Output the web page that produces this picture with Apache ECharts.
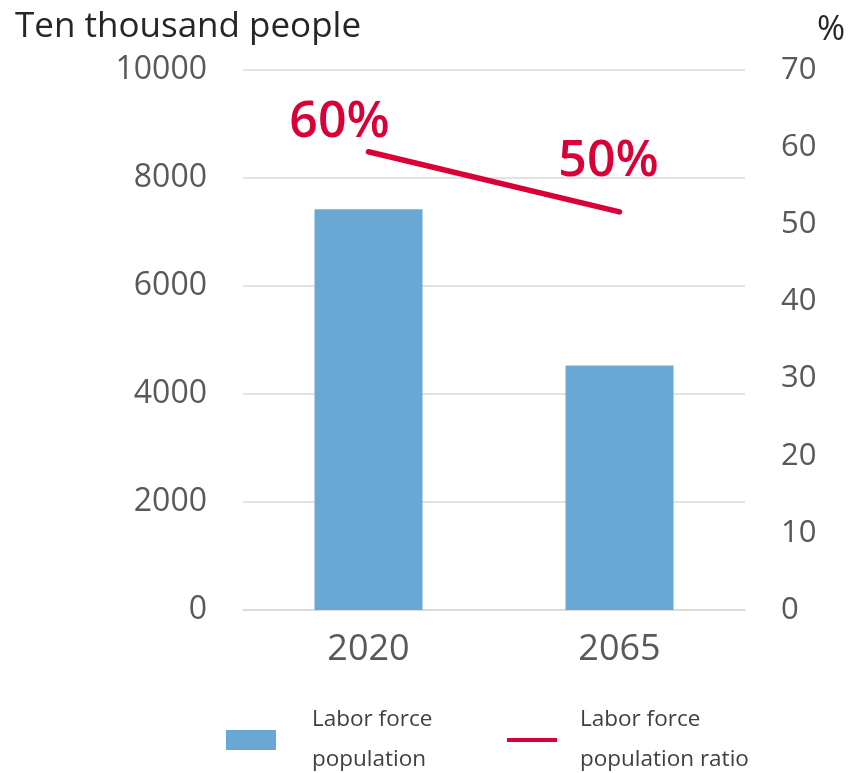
<!DOCTYPE html>
<html>
<head>
<meta charset="utf-8">
<script src="https://cdn.jsdelivr.net/npm/echarts@6/dist/echarts.min.js"></script>
<style>html,body{margin:0;padding:0;background:#fff}#c{width:856px;height:773px}</style>
</head>
<body>
<div id="c"></div>
<script>
const categories = ['2020', '2065'];
const laborForce = [7420, 4530];
const laborRatio = [59.4, 51.6];
const ratioLabels = ['60%', '50%'];
const leftTicks = { min: 0, max: 10000, interval: 2000 };
const rightTicks = { min: 0, max: 70, interval: 10 };
const seriesNames = ['Labor force\npopulation', 'Labor force\npopulation ratio'];

const FONT = 'Open Sans';
const BLUE = '#69A8D5';
const RED = '#DA0037';
const GRID = '#D9D9D9';
const labelOffsets = [[-29, -29], [-11, -50]];

const chart = echarts.init(document.getElementById('c'));
chart.setOption({
  animation: false,
  textStyle: { fontFamily: FONT },
  title: [
    { text: 'Ten thousand people', left: 10, top: 5, textStyle: { fontFamily: FONT, fontSize: 35, fontWeight: 'normal', color: '#262626' } },
    { text: '%', right: 6, top: 8, textStyle: { fontFamily: FONT, fontSize: 34, fontWeight: 'normal', color: '#262626' } }
  ],
  grid: { left: 243, right: 111, top: 70, bottom: 163, containLabel: false },
  legend: [
    {
      data: [seriesNames[0]], left: 221, top: 695, itemWidth: 50, itemHeight: 20, icon: 'rect',
      itemStyle: { color: BLUE },
      textStyle: { fontFamily: FONT, fontSize: 22.5, color: '#404040', lineHeight: 40, padding: [0, 0, 0, 31] }
    },
    {
      data: [seriesNames[1]], left: 502, top: 695, itemWidth: 50, itemHeight: 20,
      icon: 'path://M0,8 L50,8 L50,12 L0,12 Z',
      itemStyle: { color: RED },
      textStyle: { fontFamily: FONT, fontSize: 22.5, color: '#404040', lineHeight: 40, padding: [0, 0, 0, 18] }
    }
  ],
  xAxis: {
    type: 'category', data: categories,
    axisLine: { lineStyle: { color: GRID, width: 1.5 } },
    axisTick: { show: false },
    axisLabel: { fontFamily: FONT, fontSize: 36, color: '#595959', margin: 22 }
  },
  yAxis: [
    {
      type: 'value', min: leftTicks.min, max: leftTicks.max, interval: leftTicks.interval,
      axisLine: { show: false }, axisTick: { show: false },
      splitLine: { lineStyle: { color: GRID, width: 1.5 } },
      axisLabel: { fontFamily: FONT, fontSize: 32, color: '#595959', margin: 36, formatter: v => String(v) }
    },
    {
      type: 'value', min: rightTicks.min, max: rightTicks.max, interval: rightTicks.interval,
      axisLine: { show: false }, axisTick: { show: false }, splitLine: { show: false },
      axisLabel: { fontFamily: FONT, fontSize: 31, color: '#595959', margin: 36, formatter: v => String(v) }
    }
  ],
  series: [
    {
      name: seriesNames[0], type: 'bar', data: laborForce, barWidth: 108,
      itemStyle: { color: BLUE }
    },
    {
      name: seriesNames[1], type: 'line', yAxisIndex: 1,
      data: laborRatio.map((v, i) => ({
        value: v,
        label: { offset: labelOffsets[i] }
      })),
      symbol: 'circle', symbolSize: 1,
      itemStyle: { color: RED },
      lineStyle: { color: RED, width: 5.5, cap: 'round' },
      label: {
        show: true, position: 'inside',
        formatter: p => ratioLabels[p.dataIndex],
        fontFamily: FONT, fontSize: 50, color: RED, fontWeight: 600
      }
    }
  ]
});
</script>
</body>
</html>
